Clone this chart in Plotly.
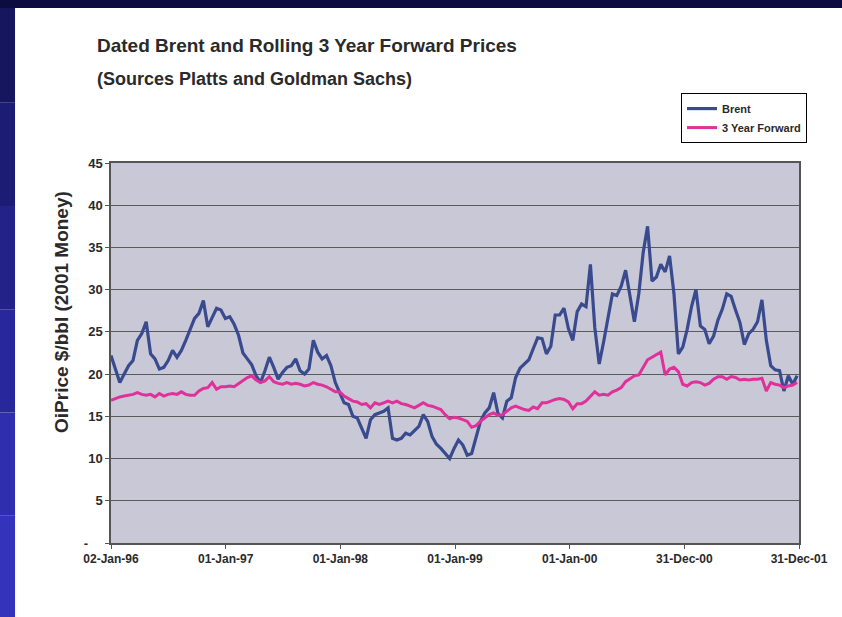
import pandas as pd
import plotly.graph_objects as go

# fortnightly samples, starting 02-Jan-96
brent = [
    22.2, 20.6, 19.0, 20.0, 21.0, 21.6, 24.0, 24.8, 26.2, 22.4,
    21.8, 20.6, 20.8, 21.6, 22.8, 22.0, 22.8, 24.0, 25.4, 26.6,
    27.2, 28.7, 25.6, 26.6, 27.8, 27.6, 26.6, 26.8, 25.9, 24.6,
    22.5, 21.8, 21.1, 19.8, 19.0, 20.4, 22.0, 20.8, 19.4, 20.2,
    20.8, 21.0, 21.8, 20.4, 20.0, 20.6, 24.0, 22.6, 21.8, 22.2,
    21.0, 19.0, 17.9, 16.6, 16.4, 15.0, 14.8, 13.6, 12.4, 14.6,
    15.2, 15.4, 15.6, 16.0, 12.4, 12.2, 12.4, 13.0, 12.8, 13.3,
    13.8, 15.2, 14.4, 12.6, 11.7, 11.2, 10.6, 10.0, 11.2, 12.2,
    11.6, 10.4, 10.6, 12.4, 14.4, 15.4, 16.0, 17.8, 15.3, 14.8,
    16.8, 17.2, 19.6, 20.7, 21.2, 21.7, 23.0, 24.3, 24.2, 22.4,
    23.3, 27.0, 27.0, 27.8, 25.4, 24.0, 27.4, 28.3, 28.0, 33.0,
    25.5, 21.2, 23.8, 26.5, 29.5, 29.3, 30.4, 32.3, 29.0, 26.2,
    29.5, 34.4, 37.5, 31.0, 31.5, 33.0, 32.1, 34.0, 29.5, 22.4,
    23.2, 25.3, 28.0, 30.0, 25.7, 25.3, 23.6, 24.5, 26.4, 27.7,
    29.5, 29.2, 27.6, 26.1, 23.5, 24.8, 25.3, 26.2, 28.8, 24.0,
    21.0, 20.5, 20.4, 18.0, 19.8, 18.8, 19.8,
]
forward = [
    16.9, 17.1, 17.3, 17.4, 17.5, 17.6, 17.8, 17.6, 17.5, 17.6,
    17.3, 17.7, 17.4, 17.6, 17.7, 17.6, 17.9, 17.6, 17.5, 17.5,
    18.0, 18.3, 18.4, 19.0, 18.2, 18.5, 18.5, 18.6, 18.5, 18.9,
    19.3, 19.6, 19.8, 19.3, 19.0, 19.2, 19.7, 19.1, 18.9, 18.8,
    19.0, 18.8, 18.9, 18.8, 18.6, 18.7, 19.0, 18.8, 18.7, 18.5,
    18.2, 17.9, 17.9, 17.4, 17.1, 16.8, 16.7, 16.4, 16.5, 16.0,
    16.6, 16.4, 16.6, 16.8, 16.6, 16.8, 16.5, 16.4, 16.2, 16.0,
    16.3, 16.6, 16.3, 16.2, 16.0, 15.8, 15.2, 14.7, 14.9, 14.8,
    14.6, 14.4, 13.7, 13.9, 14.4, 14.8, 15.2, 15.4, 15.1, 15.2,
    15.6, 16.0, 16.2, 16.0, 15.8, 15.7, 16.1, 15.9, 16.6, 16.6,
    16.8, 17.0, 17.1, 17.0, 16.7, 15.9, 16.5, 16.5, 16.8, 17.4,
    17.9, 17.5, 17.6, 17.5, 17.9, 18.1, 18.4, 19.1, 19.4, 19.8,
    19.9, 20.8, 21.7, 22.0, 22.3, 22.6, 19.9, 20.6, 20.8, 20.3,
    18.8, 18.6, 19.0, 19.1, 19.0, 18.7, 18.9, 19.4, 19.7, 19.7,
    19.4, 19.7, 19.6, 19.3, 19.4, 19.3, 19.4, 19.4, 19.5, 18.0,
    19.0, 18.8, 18.7, 18.4, 18.6, 18.7, 19.0,
]
dates = pd.date_range("1996-01-02", periods=len(brent), freq="14D")

tick_dates = ["1996-01-02", "1997-01-01", "1998-01-01", "1999-01-01",
              "2000-01-01", "2000-12-31", "2001-12-31"]
tick_labels = ["02-Jan-96", "01-Jan-97", "01-Jan-98", "01-Jan-99",
               "01-Jan-00", "31-Dec-00", "31-Dec-01"]
y_ticks = [0, 5, 10, 15, 20, 25, 30, 35, 40, 45]
y_labels = ["-\u2007\u2007", "5", "10", "15", "20", "25", "30", "35", "40", "45"]

FONT = "Liberation Sans, Arial, sans-serif"
INK = "#2a2a2a"

fig = go.Figure()
fig.add_trace(go.Scatter(
    x=dates, y=brent, mode="lines", name="Brent",
    line={"color": "#3a4a8e", "width": 3.2},
))
fig.add_trace(go.Scatter(
    x=dates, y=forward, mode="lines", name="3 Year Forward",
    line={"color": "#e0309a", "width": 3},
))

# slide frame: blue band on the left, dark band across the top
shapes = []
blues = ["#16165e", "#1c1c74", "#222288", "#28289c", "#2e2eae", "#3333bc"]
y_lo, y_hi = -0.2, 1.43
step = (y_hi - y_lo) / len(blues)
for k, c in enumerate(blues):
    shapes.append(dict(type="rect", xref="paper", yref="paper",
                       x0=-0.17, x1=-0.1395,
                       y0=y_hi - (k + 1) * step, y1=y_hi - k * step,
                       fillcolor=c, line={"width": 0}))
shapes.append(dict(type="rect", xref="paper", yref="paper",
                   x0=-0.17, x1=1.07, y0=1.408, y1=1.43,
                   fillcolor="#0c0c40", line={"width": 0}))

fig.update_layout(
    width=842, height=617,
    paper_bgcolor="white", plot_bgcolor="#c8c8d7",
    margin={"l": 111, "r": 43, "t": 163, "b": 74},
    font={"family": FONT, "color": INK, "size": 12},
    shapes=shapes,
    showlegend=True,
    legend={"x": 0.8285, "y": 1.184, "xanchor": "left", "yanchor": "top",
            "bgcolor": "white", "bordercolor": "black", "borderwidth": 1,
            "font": {"size": 11, "weight": "bold", "color": INK},
            "itemwidth": 30, "tracegroupgap": 0},
    xaxis={"type": "date", "range": ["1996-01-02", "2001-12-31"],
           "tickvals": tick_dates, "ticktext": tick_labels,
           "tickfont": {"size": 12, "weight": "bold"},
           "showgrid": False, "zeroline": False,
           "showline": True, "linecolor": "#555", "linewidth": 1.5, "mirror": True,
           "ticks": "outside", "ticklen": 4, "tickcolor": "#555"},
    yaxis={"range": [0, 45], "tickvals": y_ticks, "ticktext": y_labels,
           "tickfont": {"size": 13, "weight": "bold"},
           "showgrid": True, "gridcolor": "#5a5a5a", "gridwidth": 1.2,
           "zeroline": False,
           "showline": True, "linecolor": "#555", "linewidth": 1.5, "mirror": True,
           "ticks": "outside", "ticklen": 4, "tickcolor": "#555"},
    annotations=[
        dict(text="Dated Brent and Rolling 3 Year Forward Prices",
             xref="paper", yref="paper", x=-0.0233, y=1.308,
             xanchor="left", yanchor="middle", showarrow=False,
             font={"size": 19, "weight": "bold", "color": INK}),
        dict(text="(Sources Platts and Goldman Sachs)",
             xref="paper", yref="paper", x=-0.0233, y=1.221,
             xanchor="left", yanchor="middle", showarrow=False,
             font={"size": 18, "weight": "bold", "color": INK}),
        dict(text="OiPrice $/bbl (2001 Money)",
             xref="paper", yref="paper", x=-0.0712, y=0.608,
             xanchor="center", yanchor="middle", showarrow=False,
             textangle=-90,
             font={"size": 19, "weight": "bold", "color": INK}),
    ],
)

# drop the default 8px page margin so the figure sits at the window corner
fig.write_html("out.html",
               config={"displayModeBar": False},
               post_script="document.body.style.margin='0';"
                           "document.body.style.overflow='hidden';")
